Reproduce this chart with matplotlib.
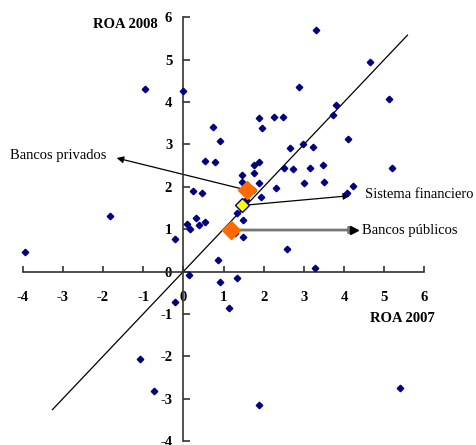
import matplotlib.pyplot as plt

# ROA por banco: 2007 (x) y 2008 (y)
roa_2007 = [
    -0.95, 0.00, 0.75, 0.90, 0.54, 0.78, 0.25, 0.46, -1.82, 0.08,
    0.32, 0.55, 0.40, 0.17, 1.33, -3.94, -0.21, 0.86, 0.14, 0.91,
    1.33, 1.13, -0.21, -1.08, -0.73, 1.29, 1.49, 1.48, 2.57, 3.29,
    5.39, 1.89, 3.30, 4.65, 5.12, 2.89, 3.80, 3.72, 1.88, 2.25,
    2.47, 1.96, 4.11, 2.65, 2.98, 3.22, 5.20, 2.51, 2.72, 3.15,
    3.48, 1.89, 1.76, 1.75, 1.47, 1.45, 1.88, 3.00, 3.50, 2.30,
    4.22, 4.08, 1.93, 1.74, 1.55,
]
roa_2008 = [
    4.32, 4.27, 3.42, 3.08, 2.60, 2.58, 1.90, 1.86, 1.32, 1.13,
    1.27, 1.16, 1.09, 1.01, 1.39, 0.45, 0.77, 0.27, -0.09, -0.24,
    -0.16, -0.85, -0.72, -2.06, -2.81, 0.90, 1.22, 0.81, 0.53, 0.09,
    -2.75, -3.16, 5.69, 4.95, 4.08, 4.35, 3.93, 3.70, 3.63, 3.65,
    3.65, 3.38, 3.13, 2.91, 3.01, 2.94, 2.45, 2.45, 2.42, 2.44,
    2.52, 2.59, 2.51, 2.32, 2.29, 2.11, 2.09, 2.09, 2.12, 1.97,
    2.02, 1.85, 1.77, 1.93, 1.69,
]

# promedios por grupo
privados = (1.59, 1.92)
sistema = (1.46, 1.56)
publicos = (1.19, 0.98)

linea_45 = [-3.26, 5.58]
ticks = [-4, -3, -2, -1, 0, 1, 2, 3, 4, 5, 6]

plt.rcParams['font.family'] = ['Liberation Serif', 'DejaVu Serif']
plt.rcParams['axes.unicode_minus'] = False

fig = plt.figure(figsize=(4.77, 4.45), dpi=100)
ax = fig.add_axes([0.0476, 0.009, 0.842, 0.952])

ax.set_xlim(-4, 6)
ax.set_ylim(-4, 6)

# ejes cruzando en el origen
ax.spines['left'].set_position(('data', 0))
ax.spines['bottom'].set_position(('data', 0))
ax.spines['top'].set_visible(False)
ax.spines['right'].set_visible(False)
for s in ('left', 'bottom'):
    ax.spines[s].set_linewidth(1.2)
    ax.spines[s].set_color('#333333')

ax.set_xticks(ticks)
ax.set_yticks(ticks)
ax.tick_params(axis='x', direction='in', length=4, width=1.2, pad=14, colors='#333333', labelcolor='black')
ax.tick_params(axis='y', direction='in', length=5, width=1.2, pad=8, colors='#333333', labelcolor='black')
for lab in ax.get_xticklabels() + ax.get_yticklabels():
    lab.set_fontweight('bold')
    lab.set_fontsize(10.5)

# linea de 45 grados
ax.plot(linea_45, linea_45, color='black', linewidth=0.9, zorder=2)

ax.plot(roa_2007, roa_2008, linestyle='none', marker='D', markersize=3.3,
        color='#000080', zorder=3, clip_on=False)

# flechas
ax.annotate('', xy=(-1.66, 2.68), xytext=privados,
            arrowprops=dict(arrowstyle='-|>', color='black', lw=0.9,
                            mutation_scale=10, shrinkA=0, shrinkB=0), zorder=2)
ax.annotate('', xy=(4.15, 1.79), xytext=sistema,
            arrowprops=dict(arrowstyle='-|>', color='black', lw=0.9,
                            mutation_scale=10, shrinkA=0, shrinkB=0), zorder=2)
ax.annotate('', xy=(4.33, 0.98), xytext=publicos,
            arrowprops=dict(arrowstyle='-|>', color='#777777', lw=2,
                            mutation_scale=10, shrinkA=0, shrinkB=0), zorder=2)
ax.plot([4.25], [0.98], marker='>', color='black', markersize=6, linestyle='none', zorder=3)

ax.plot(*privados, marker='D', markersize=9, color='#ff6a00', linestyle='none', zorder=4)
ax.plot(*publicos, marker='D', markersize=9, color='#ff6a00', linestyle='none', zorder=4)
ax.plot(*sistema, marker='D', markersize=7.5, markerfacecolor='#ffff00',
        markeredgecolor='#000080', markeredgewidth=1, linestyle='none', zorder=5)

ax.text(-4.31, 2.74, 'Bancos privados', fontsize=10.5, va='center', ha='left')
ax.text(4.52, 1.81, 'Sistema financiero', fontsize=10.5, va='center', ha='left')
ax.text(4.44, 0.98, 'Bancos públicos', fontsize=10.5, va='center', ha='left')

ax.text(-0.63, 5.82, 'ROA 2008', fontsize=10.5, fontweight='bold', ha='right', va='center')
ax.text(6.27, -1.12, 'ROA 2007', fontsize=10.5, fontweight='bold', ha='right', va='center')

fig.savefig('out.png', dpi=100)
